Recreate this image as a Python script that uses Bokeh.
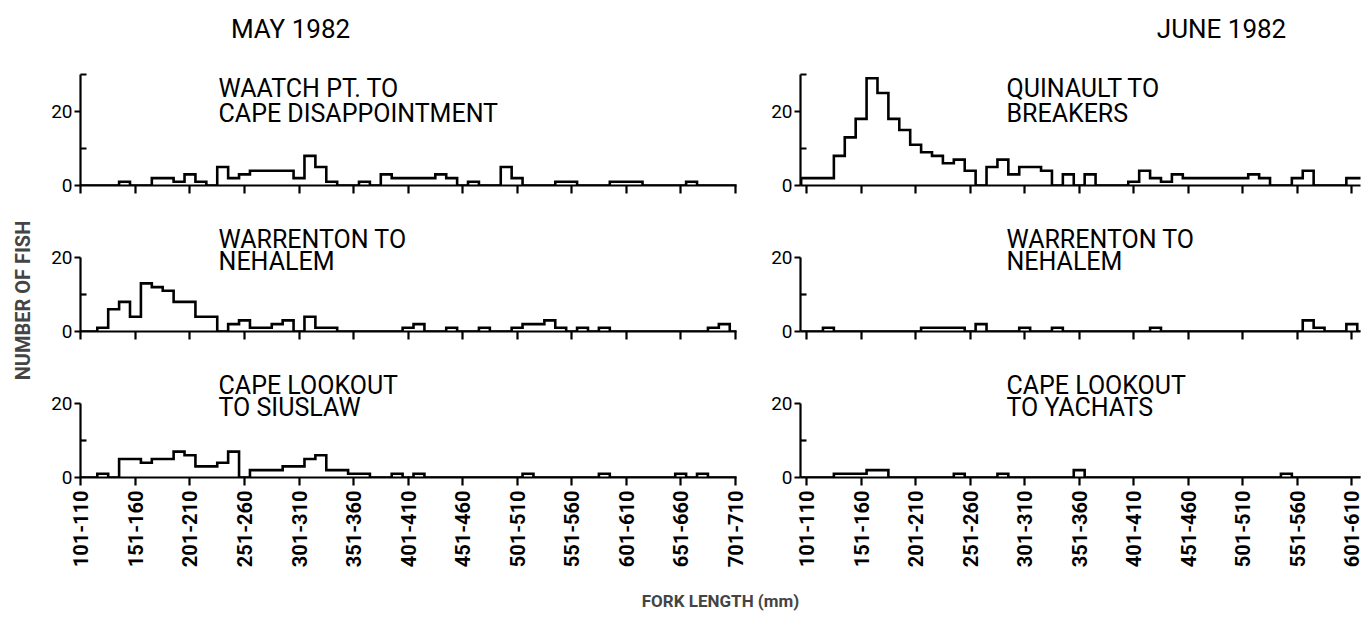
import math
from bokeh.plotting import figure
from bokeh.models import Range1d, FixedTicker, Label
from bokeh.layouts import row, column
from bokeh.embed import file_html
from bokeh.resources import INLINE

FONT = "Roboto"

# ---------------- data ----------------
# 10-mm fork-length classes; first class is 101-110 mm
may_tick_labels = ["101-110", "151-160", "201-210", "251-260", "301-310", "351-360", "401-410",
                   "451-460", "501-510", "551-560", "601-610", "651-660", "701-710"]
june_tick_labels = ["101-110", "151-160", "201-210", "251-260", "301-310", "351-360", "401-410",
                    "451-460", "501-510", "551-560", "601-610"]

# MAY 1982 (classes 101-110 ... 701-710)
may_waatch = [0, 0, 0, 0, 1, 0, 0, 2, 2, 1, 3, 1, 0, 5, 2, 3, 4, 4, 4, 4,
              2, 8, 5, 1, 0, 0, 1, 0, 3, 2, 2, 2, 2, 3, 2, 0, 1, 0, 0, 5,
              2, 0, 0, 0, 1, 1, 0, 0, 0, 1, 1, 1, 0, 0, 0, 0, 1, 0, 0, 0, 0]
may_warrenton = [0, 0, 1, 6, 8, 4, 13, 12, 11, 8, 8, 4, 4, 0, 2, 3, 1, 1, 2, 3,
                 0, 4, 1, 1, 0, 0, 0, 0, 0, 0, 1, 2, 0, 0, 1, 0, 0, 1, 0, 0,
                 1, 2, 2, 3, 1, 0, 1, 0, 1, 0, 0, 0, 0, 0, 0, 0, 0, 0, 1, 2, 0]
may_capelookout = [0, 0, 1, 0, 5, 5, 4, 5, 5, 7, 6, 3, 3, 4, 7, 0, 2, 2, 2, 3,
                   3, 5, 6, 2, 2, 1, 1, 0, 0, 1, 0, 1, 0, 0, 0, 0, 0, 0, 0, 0,
                   0, 1, 0, 0, 0, 0, 0, 0, 1, 0, 0, 0, 0, 0, 0, 1, 0, 1, 0, 0, 0]

# JUNE 1982 (classes 101-110 ... 611-620)
june_quinault = [2, 2, 2, 8, 13, 18, 29, 25, 18, 15, 11, 9, 8, 6, 7, 4, 0, 5, 7, 3,
                 5, 5, 4, 0, 3, 0, 3, 0, 0, 0, 1, 4, 2, 1, 3, 2, 2, 2, 2, 2,
                 2, 3, 2, 0, 0, 2, 4, 0, 0, 0, 2, 2]
june_warrenton = [0, 0, 1, 0, 0, 0, 0, 0, 0, 0, 0, 1, 1, 1, 1, 0, 2, 0, 0, 0,
                  1, 0, 0, 1, 0, 0, 0, 0, 0, 0, 0, 0, 1, 0, 0, 0, 0, 0, 0, 0,
                  0, 0, 0, 0, 0, 0, 3, 1, 0, 0, 2, 0]
june_capelookout = [0, 0, 0, 1, 1, 1, 2, 2, 0, 0, 0, 0, 0, 0, 1, 0, 0, 0, 1, 0,
                    0, 0, 0, 0, 0, 2, 0, 0, 0, 0, 0, 0, 0, 0, 0, 0, 0, 0, 0, 0,
                    0, 0, 0, 0, 1, 0, 0, 0, 0, 0, 0, 0]

month_titles = ["MAY 1982", "JUNE 1982"]
may_areas = [("WAATCH PT. TO", "CAPE DISAPPOINTMENT"), ("WARRENTON TO", "NEHALEM"),
             ("CAPE LOOKOUT", "TO SIUSLAW")]
june_areas = [("QUINAULT TO", "BREAKERS"), ("WARRENTON TO", "NEHALEM"),
              ("CAPE LOOKOUT", "TO YACHATS")]
y_label = "NUMBER OF FISH"
x_label = "FORK LENGTH (mm)"

BIN_START = 100.0   # lower edge (mm) of first class
BIN_W = 10.0
PX_PER_UNIT = 3.7


def make_panel(values, tick_labels, area, col, rowi):
    if col == 0:
        width, bl, br = 720, 40, 24
        xr = Range1d(104.6, 706.2)
        tx = 231.2
    else:
        width, bl, br = 604, 40, 4
        xr = Range1d(99.4, 612.97)
        tx = 288.3
    if rowi == 0:
        height, fh, bb = 200, 185, 15
        axis_top = 30
    elif rowi == 1:
        height, fh, bb = 146, 131, 15
        axis_top = 20
    else:
        height, fh, bb = 244, 131, 113
        axis_top = 20

    p = figure(width=width, height=height, x_range=xr,
               y_range=Range1d(0, fh / PX_PER_UNIT),
               output_backend="svg", toolbar_location=None, title=None,
               min_border_left=bl, min_border_right=br, min_border_top=0,
               min_border_bottom=bb)
    p.outline_line_color = None
    p.grid.visible = False
    p.background_fill_color = "white"
    p.border_fill_color = "white"

    # step outline of the histogram
    n = len(values)
    edges = [BIN_START + BIN_W * k for k in range(n + 1)]
    xs = [edges[0]] + edges[:n] + [edges[n]]
    ys = [0] + list(values) + [0]
    p.step(xs, ys, mode="after", line_color="black", line_width=2.6, line_join="miter")

    # x axis
    centers = [BIN_START + BIN_W / 2 + 50 * i for i in range(len(tick_labels))]
    ax = p.xaxis[0]
    ax.axis_line_width = 2.2
    ax.major_tick_line_width = 2.2
    ax.minor_tick_line_width = 2.2
    ax.major_tick_out = 8
    ax.major_tick_in = 0
    ax.minor_tick_out = 8
    ax.minor_tick_in = 0
    if rowi == 2:
        ax.ticker = FixedTicker(ticks=centers, minor_ticks=[])
        ax.major_label_overrides = {c: lab for c, lab in zip(centers, tick_labels)}
        ax.major_label_orientation = math.pi / 2
        ax.major_label_text_font = FONT
        ax.major_label_text_font_style = "bold"
        ax.major_label_text_font_size = "20px"
        ax.major_label_text_color = "black"
        ax.major_label_standoff = 5
    else:
        # unlabelled tick marks only
        ax.ticker = FixedTicker(ticks=[], minor_ticks=centers)

    # y axis (line only from 0 to its top tick)
    ay = p.yaxis[0]
    ay.bounds = (0, axis_top)
    minor = [10, 30] if axis_top == 30 else [10]
    ay.ticker = FixedTicker(ticks=[0, 20], minor_ticks=minor)
    ay.axis_line_width = 2.2
    ay.major_tick_line_width = 2.2
    ay.minor_tick_line_width = 2.2
    ay.major_tick_out = 6
    ay.major_tick_in = 0
    ay.minor_tick_out = 0
    ay.minor_tick_in = 6
    ay.major_label_text_font = FONT
    ay.major_label_text_font_size = "19px"
    ay.major_label_text_color = "black"
    ay.major_label_standoff = 2

    # area caption
    if rowi == 0:
        y1, y2 = 26.2, 19.5
    else:
        y1, y2 = 24.9, 18.9
    for txt, yy in zip(area, (y1, y2)):
        p.add_layout(Label(x=tx, y=yy, text=txt, text_font=FONT, text_font_size="25px",
                           text_align="left", text_baseline="middle", text_color="black"))
    # month header
    if rowi == 0:
        hx = 297.2 if col == 0 else 485.5
        p.add_layout(Label(x=hx, y=42.2, text=month_titles[col], text_font=FONT,
                           text_font_size="26px", text_align="center",
                           text_baseline="middle", text_color="black"))
    return p


may_data = [may_waatch, may_warrenton, may_capelookout]
june_data = [june_quinault, june_warrenton, june_capelookout]

rows = []
for r in range(3):
    left = make_panel(may_data[r], may_tick_labels, may_areas[r], 0, r)
    right = make_panel(june_data[r], june_tick_labels, june_areas[r], 1, r)
    rows.append(row(left, right, spacing=0))

# x-axis title strip
xl = figure(width=1324, height=30, x_range=Range1d(0, 1324), y_range=Range1d(0, 30),
            output_backend="svg", toolbar_location=None, title=None,
            x_axis_type=None, y_axis_type=None, min_border=0)
xl.outline_line_color = None
xl.grid.visible = False
xl.add_layout(Label(x=680, y=20, text=x_label, text_font=FONT, text_font_size="17px",
                    text_font_style="bold", text_align="center", text_baseline="middle"))

# y-axis title strip
yl = figure(width=40, height=620, x_range=Range1d(0, 40), y_range=Range1d(0, 620),
            output_backend="svg", toolbar_location=None, title=None,
            x_axis_type=None, y_axis_type=None, min_border=0)
yl.outline_line_color = None
yl.grid.visible = False
yl.add_layout(Label(x=22, y=320, text=y_label, text_font=FONT, text_font_size="20px",
                    text_font_style="bold", text_align="center", text_baseline="middle",
                    angle=math.pi / 2))

grid = column(rows[0], rows[1], rows[2], xl, spacing=0)
page = row(yl, grid, spacing=0)

open("out.html", "w").write(file_html(page, INLINE))
